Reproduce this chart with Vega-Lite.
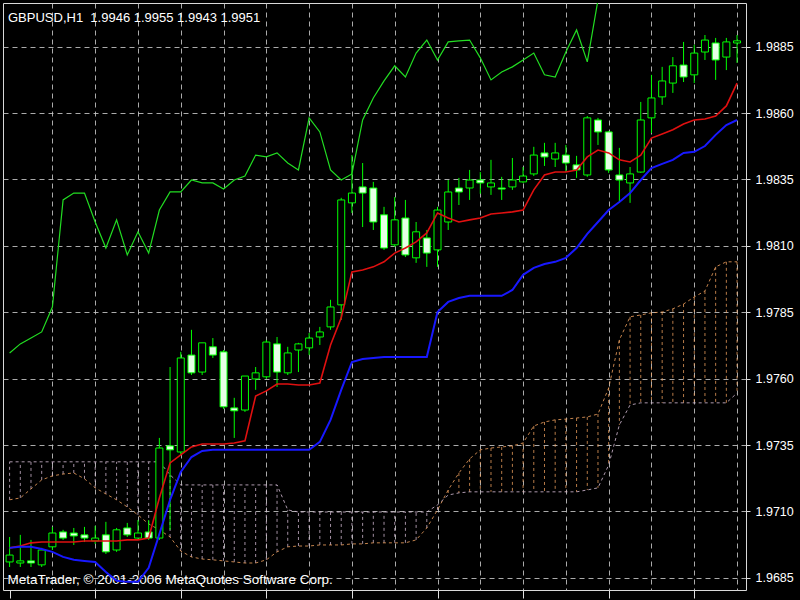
{
"$schema":"https://vega.github.io/schema/vega-lite/v6.json",
"width":743,"height":587,
"autosize":{"type":"none"},
"padding":{"left":3,"top":3,"right":54,"bottom":10},
"background":"#000000",
"title":{"text":"GBPUSD,H1\u00a0\u00a01.9946 1.9955 1.9943 1.9951","anchor":"start","frame":"group","orient":"top","offset":-22,"dx":5,"color":"#ffffff","font":"Liberation Sans","fontSize":13,"fontWeight":"normal"},
"config":{"view":{"stroke":"#d8d8d8","strokeWidth":1,"fill":"#000000"}},
"data":{"values":[
{"j":-4,"o":1.96910,"h":1.97004,"l":1.96891,"c":1.96936,"ten":1.96963,"kij":1.96963,"chi":1.97697,"sa":1.97144,"sb":1.97287},
{"j":-3,"o":1.96906,"h":1.97012,"l":1.96891,"c":1.96914,"ten":1.96970,"kij":1.96967,"chi":1.97731,"sa":1.97151,"sb":1.97287},
{"j":-2,"o":1.96914,"h":1.96993,"l":1.96891,"c":1.96906,"ten":1.96982,"kij":1.96967,"chi":1.97753,"sa":1.97185,"sb":1.97287},
{"j":-1,"o":1.96899,"h":1.96963,"l":1.96891,"c":1.96955,"ten":1.96985,"kij":1.96959,"chi":1.97776,"sa":1.97219,"sb":1.97287},
{"j":0,"o":1.96967,"h":1.97042,"l":1.96955,"c":1.97019,"ten":1.96985,"kij":1.96948,"chi":1.97870,"sa":1.97234,"sb":1.97287},
{"j":1,"o":1.97023,"h":1.97031,"l":1.96993,"c":1.97000,"ten":1.96985,"kij":1.96929,"chi":1.98273,"sa":1.97241,"sb":1.97287},
{"j":2,"o":1.97019,"h":1.97038,"l":1.96974,"c":1.97008,"ten":1.96985,"kij":1.96918,"chi":1.98299,"sa":1.97245,"sb":1.97287},
{"j":3,"o":1.97012,"h":1.97042,"l":1.96985,"c":1.97000,"ten":1.96989,"kij":1.96914,"chi":1.98299,"sa":1.97223,"sb":1.97287},
{"j":4,"o":1.96989,"h":1.97046,"l":1.96978,"c":1.97000,"ten":1.96989,"kij":1.96910,"chi":1.98190,"sa":1.97189,"sb":1.97287},
{"j":5,"o":1.97012,"h":1.97061,"l":1.96940,"c":1.96948,"ten":1.96989,"kij":1.96872,"chi":1.98092,"sa":1.97166,"sb":1.97287},
{"j":6,"o":1.96955,"h":1.97038,"l":1.96948,"c":1.97031,"ten":1.96989,"kij":1.96839,"chi":1.98198,"sa":1.97144,"sb":1.97287},
{"j":7,"o":1.97038,"h":1.97057,"l":1.97004,"c":1.97012,"ten":1.96993,"kij":1.96835,"chi":1.98066,"sa":1.97117,"sb":1.97287},
{"j":8,"o":1.97000,"h":1.97068,"l":1.96993,"c":1.97019,"ten":1.96993,"kij":1.96835,"chi":1.98153,"sa":1.97087,"sb":1.97287},
{"j":9,"o":1.97023,"h":1.97068,"l":1.96993,"c":1.97000,"ten":1.97000,"kij":1.96888,"chi":1.98073,"sa":1.97053,"sb":1.97287},
{"j":10,"o":1.97000,"h":1.97377,"l":1.96993,"c":1.97339,"ten":1.97151,"kij":1.97015,"chi":1.98235,"sa":1.97031,"sb":1.97287},
{"j":11,"o":1.97347,"h":1.97644,"l":1.97031,"c":1.97332,"ten":1.97283,"kij":1.97144,"chi":1.98303,"sa":1.97004,"sb":1.97238},
{"j":12,"o":1.97324,"h":1.97701,"l":1.97313,"c":1.97678,"ten":1.97313,"kij":1.97249,"chi":1.98303,"sa":1.96951,"sb":1.97200},
{"j":13,"o":1.97689,"h":1.97784,"l":1.97614,"c":1.97622,"ten":1.97343,"kij":1.97305,"chi":1.98348,"sa":1.96929,"sb":1.97200},
{"j":14,"o":1.97625,"h":1.97735,"l":1.97614,"c":1.97735,"ten":1.97354,"kij":1.97328,"chi":1.98337,"sa":1.96921,"sb":1.97200},
{"j":15,"o":1.97720,"h":1.97753,"l":1.97678,"c":1.97689,"ten":1.97354,"kij":1.97332,"chi":1.98337,"sa":1.96918,"sb":1.97200},
{"j":16,"o":1.97701,"h":1.97708,"l":1.97486,"c":1.97494,"ten":1.97354,"kij":1.97332,"chi":1.98314,"sa":1.96914,"sb":1.97200},
{"j":17,"o":1.97490,"h":1.97528,"l":1.97377,"c":1.97479,"ten":1.97358,"kij":1.97332,"chi":1.98348,"sa":1.96910,"sb":1.97200},
{"j":18,"o":1.97482,"h":1.97610,"l":1.97475,"c":1.97610,"ten":1.97366,"kij":1.97332,"chi":1.98363,"sa":1.96906,"sb":1.97200},
{"j":19,"o":1.97599,"h":1.97644,"l":1.97558,"c":1.97622,"ten":1.97535,"kij":1.97332,"chi":1.98442,"sa":1.96906,"sb":1.97200},
{"j":20,"o":1.97607,"h":1.97746,"l":1.97599,"c":1.97738,"ten":1.97554,"kij":1.97332,"chi":1.98435,"sa":1.96918,"sb":1.97200},
{"j":21,"o":1.97731,"h":1.97757,"l":1.97569,"c":1.97625,"ten":1.97580,"kij":1.97332,"chi":1.98450,"sa":1.96948,"sb":1.97200},
{"j":22,"o":1.97622,"h":1.97720,"l":1.97614,"c":1.97697,"ten":1.97580,"kij":1.97332,"chi":1.98412,"sa":1.96967,"sb":1.97106},
{"j":23,"o":1.97708,"h":1.97735,"l":1.97625,"c":1.97731,"ten":1.97576,"kij":1.97332,"chi":1.98386,"sa":1.96970,"sb":1.97098},
{"j":24,"o":1.97716,"h":1.97772,"l":1.97689,"c":1.97753,"ten":1.97576,"kij":1.97332,"chi":1.98582,"sa":1.96970,"sb":1.97098},
{"j":25,"o":1.97757,"h":1.97795,"l":1.97727,"c":1.97776,"ten":1.97584,"kij":1.97362,"chi":1.98529,"sa":1.96974,"sb":1.97098},
{"j":26,"o":1.97795,"h":1.97897,"l":1.97784,"c":1.97870,"ten":1.97727,"kij":1.97445,"chi":1.98386,"sa":1.96974,"sb":1.97098},
{"j":27,"o":1.97878,"h":1.98281,"l":1.97821,"c":1.98273,"ten":1.97829,"kij":1.97558,"chi":1.98348,"sa":1.96974,"sb":1.97098},
{"j":28,"o":1.98262,"h":1.98442,"l":1.98224,"c":1.98299,"ten":1.98002,"kij":1.97663,"chi":1.98371,"sa":1.96978,"sb":1.97098},
{"j":29,"o":1.98322,"h":1.98412,"l":1.98171,"c":1.98299,"ten":1.98009,"kij":1.97674,"chi":1.98574,"sa":1.96978,"sb":1.97098},
{"j":30,"o":1.98318,"h":1.98341,"l":1.98160,"c":1.98190,"ten":1.98021,"kij":1.97678,"chi":1.98657,"sa":1.96982,"sb":1.97098},
{"j":31,"o":1.98217,"h":1.98247,"l":1.98085,"c":1.98092,"ten":1.98040,"kij":1.97682,"chi":1.98721,"sa":1.96982,"sb":1.97098},
{"j":32,"o":1.98104,"h":1.98284,"l":1.98096,"c":1.98198,"ten":1.98073,"kij":1.97682,"chi":1.98778,"sa":1.96982,"sb":1.97098},
{"j":33,"o":1.98205,"h":1.98273,"l":1.98058,"c":1.98066,"ten":1.98092,"kij":1.97682,"chi":1.98736,"sa":1.96982,"sb":1.97098},
{"j":34,"o":1.98055,"h":1.98190,"l":1.98036,"c":1.98153,"ten":1.98115,"kij":1.97682,"chi":1.98826,"sa":1.96993,"sb":1.97098},
{"j":35,"o":1.98130,"h":1.98160,"l":1.98021,"c":1.98073,"ten":1.98149,"kij":1.97682,"chi":1.98875,"sa":1.97038,"sb":1.97098},
{"j":36,"o":1.98085,"h":1.98247,"l":1.98021,"c":1.98235,"ten":1.98224,"kij":1.97851,"chi":1.98800,"sa":1.97106,"sb":1.97125},
{"j":37,"o":1.98190,"h":1.98348,"l":1.98160,"c":1.98303,"ten":1.98205,"kij":1.97889,"chi":1.98868,"sa":1.97181,"sb":1.97162},
{"j":38,"o":1.98318,"h":1.98356,"l":1.98254,"c":1.98303,"ten":1.98190,"kij":1.97904,"chi":1.98872,"sa":1.97245,"sb":1.97170},
{"j":39,"o":1.98318,"h":1.98386,"l":1.98273,"c":1.98348,"ten":1.98198,"kij":1.97912,"chi":1.98875,"sa":1.97298,"sb":1.97174},
{"j":40,"o":1.98348,"h":1.98378,"l":1.98296,"c":1.98337,"ten":1.98205,"kij":1.97912,"chi":1.98808,"sa":1.97332,"sb":1.97174},
{"j":41,"o":1.98322,"h":1.98424,"l":1.98292,"c":1.98337,"ten":1.98220,"kij":1.97912,"chi":1.98725,"sa":1.97339,"sb":1.97174},
{"j":42,"o":1.98318,"h":1.98360,"l":1.98273,"c":1.98314,"ten":1.98224,"kij":1.97912,"chi":1.98755,"sa":1.97343,"sb":1.97174},
{"j":43,"o":1.98322,"h":1.98431,"l":1.98311,"c":1.98348,"ten":1.98228,"kij":1.97934,"chi":1.98774,"sa":1.97347,"sb":1.97174},
{"j":44,"o":1.98341,"h":1.98397,"l":1.98337,"c":1.98363,"ten":1.98235,"kij":1.97991,"chi":1.98800,"sa":1.97358,"sb":1.97174},
{"j":45,"o":1.98371,"h":1.98473,"l":1.98363,"c":1.98442,"ten":1.98311,"kij":1.98017,"chi":1.98826,"sa":1.97422,"sb":1.97174},
{"j":46,"o":1.98450,"h":1.98488,"l":1.98401,"c":1.98435,"ten":1.98367,"kij":1.98032,"chi":1.98744,"sa":1.97437,"sb":1.97174},
{"j":47,"o":1.98427,"h":1.98488,"l":1.98397,"c":1.98450,"ten":1.98378,"kij":1.98040,"chi":1.98736,"sa":1.97445,"sb":1.97174},
{"j":48,"o":1.98442,"h":1.98480,"l":1.98378,"c":1.98412,"ten":1.98378,"kij":1.98055,"chi":1.98830,"sa":1.97448,"sb":1.97174},
{"j":49,"o":1.98405,"h":1.98439,"l":1.98356,"c":1.98386,"ten":1.98386,"kij":1.98092,"chi":1.98913,"sa":1.97452,"sb":1.97174},
{"j":50,"o":1.98367,"h":1.98589,"l":1.98360,"c":1.98582,"ten":1.98435,"kij":1.98145,"chi":1.98793,"sa":1.97456,"sb":1.97181},
{"j":51,"o":1.98574,"h":1.98582,"l":1.98480,"c":1.98529,"ten":1.98461,"kij":1.98190,"chi":1.99026,"sa":1.97467,"sb":1.97189},
{"j":52,"o":1.98529,"h":1.98533,"l":1.98375,"c":1.98386,"ten":1.98450,"kij":1.98235,"chi":1.99177,"sa":1.97565,"sb":1.97275},
{"j":53,"o":1.98367,"h":1.98469,"l":1.98262,"c":1.98348,"ten":1.98424,"kij":1.98265,"chi":null,"sa":1.97746,"sb":1.97426},
{"j":54,"o":1.98337,"h":1.98397,"l":1.98262,"c":1.98371,"ten":1.98416,"kij":1.98299,"chi":null,"sa":1.97833,"sb":1.97501},
{"j":55,"o":1.98378,"h":1.98642,"l":1.98375,"c":1.98574,"ten":1.98442,"kij":1.98348,"chi":null,"sa":1.97840,"sb":1.97509},
{"j":56,"o":1.98582,"h":1.98744,"l":1.98525,"c":1.98657,"ten":1.98506,"kij":1.98393,"chi":null,"sa":1.97848,"sb":1.97509},
{"j":57,"o":1.98661,"h":1.98774,"l":1.98631,"c":1.98721,"ten":1.98521,"kij":1.98409,"chi":null,"sa":1.97851,"sb":1.97509},
{"j":58,"o":1.98713,"h":1.98811,"l":1.98676,"c":1.98778,"ten":1.98537,"kij":1.98424,"chi":null,"sa":1.97863,"sb":1.97509},
{"j":59,"o":1.98781,"h":1.98868,"l":1.98717,"c":1.98736,"ten":1.98559,"kij":1.98450,"chi":null,"sa":1.97881,"sb":1.97509},
{"j":60,"o":1.98744,"h":1.98857,"l":1.98713,"c":1.98826,"ten":1.98574,"kij":1.98454,"chi":null,"sa":1.97908,"sb":1.97509},
{"j":61,"o":1.98830,"h":1.98894,"l":1.98800,"c":1.98875,"ten":1.98578,"kij":1.98476,"chi":null,"sa":1.97930,"sb":1.97509},
{"j":62,"o":1.98864,"h":1.98883,"l":1.98725,"c":1.98800,"ten":1.98589,"kij":1.98518,"chi":null,"sa":1.98021,"sb":1.97509},
{"j":63,"o":1.98811,"h":1.98883,"l":1.98762,"c":1.98868,"ten":1.98627,"kij":1.98555,"chi":null,"sa":1.98040,"sb":1.97509},
{"j":64,"o":1.98864,"h":1.98894,"l":1.98789,"c":1.98872,"ten":1.98713,"kij":1.98574,"chi":null,"sa":1.98040,"sb":1.97546}
]},
"encoding":{"x":{"field":"j","type":"quantitative","scale":{"domain":[-4.15,64.37],"nice":false,"zero":false},
 "axis":{"orient":"bottom","values":[-4,0,4,8,12,16,20,24,28,32,36,40,44,48,52,56,60,64],"labels":false,"domain":false,
  "grid":true,"gridColor":"#c8c8c8","gridDash":[5,4],"gridOpacity":{"condition":{"test":"datum.value < -1","value":0},"value":0.85},
  "ticks":true,"tickColor":"#e0e0e0","tickSize":8,"tickOpacity":{"condition":{"test":"abs(datum.value) % 8 == 4","value":1},"value":0},
  "title":"MetaTrader, © 2001-2006 MetaQuotes Software Corp.","titleColor":"#ffffff","titleFont":"Liberation Sans","titleFontSize":13.5,"titleFontWeight":"normal","titleAnchor":"start","titleAlign":"left","titleX":4,"titleY":-7,"titleBaseline":"alphabetic"}}},
"layer":[
{"mark":{"type":"rule","strokeDash":[3,3],"strokeWidth":1,"opacity":0.75,"clip":true},
 "encoding":{"y":{"field":"sa","type":"quantitative","title":null,"scale":{"domain":[1.968044,1.990145],"nice":false,"zero":false},
   "axis":{"orient":"right","values":[1.9685,1.971,1.9735,1.976,1.9785,1.981,1.9835,1.986,1.9885],"format":".4f","grid":true,"gridColor":"#c8c8c8","gridDash":[5,4],"gridOpacity":0.85,"domain":false,"tickColor":"#e0e0e0","tickSize":4,"labelColor":"#ffffff","labelFont":"Liberation Sans","labelFontSize":12.5,"labelPadding":5,"title":null}},
  "y2":{"field":"sb"},
  "color":{"condition":{"test":"datum.sa >= datum.sb","value":"#f4a460"},"value":"#d8bfd8"}}},
{"mark":{"type":"line","strokeDash":[3,3],"strokeWidth":1,"color":"#f4a460","opacity":0.8,"clip":true},
 "encoding":{"y":{"field":"sa","type":"quantitative","title":null}}},
{"mark":{"type":"line","strokeDash":[3,3],"strokeWidth":1,"color":"#d8bfd8","opacity":0.8,"clip":true},
 "encoding":{"y":{"field":"sb","type":"quantitative","title":null}}},
{"mark":{"type":"rule","color":"#00ff00","strokeWidth":1,"clip":true},
 "encoding":{"y":{"field":"l","type":"quantitative","title":null},"y2":{"field":"h"}}},
{"mark":{"type":"bar","orient":"vertical","size":7,"stroke":"#00ff00","strokeWidth":1,"clip":true},
 "encoding":{"y":{"field":"o","type":"quantitative","title":null},"y2":{"field":"c"},
  "fill":{"condition":{"test":"datum.c >= datum.o","value":"#000000"},"value":"#e6ffe6"}}},
{"mark":{"type":"line","color":"#e01010","strokeWidth":1.6,"clip":true},
 "encoding":{"y":{"field":"ten","type":"quantitative","title":null}}},
{"mark":{"type":"line","color":"#1818ff","strokeWidth":2,"clip":true},
 "encoding":{"y":{"field":"kij","type":"quantitative","title":null}}},
{"transform":[{"filter":"isValid(datum.chi)"}],
 "mark":{"type":"line","color":"#22dd22","strokeWidth":1.2,"clip":true},
 "encoding":{"y":{"field":"chi","type":"quantitative","title":null}}}
]
}
